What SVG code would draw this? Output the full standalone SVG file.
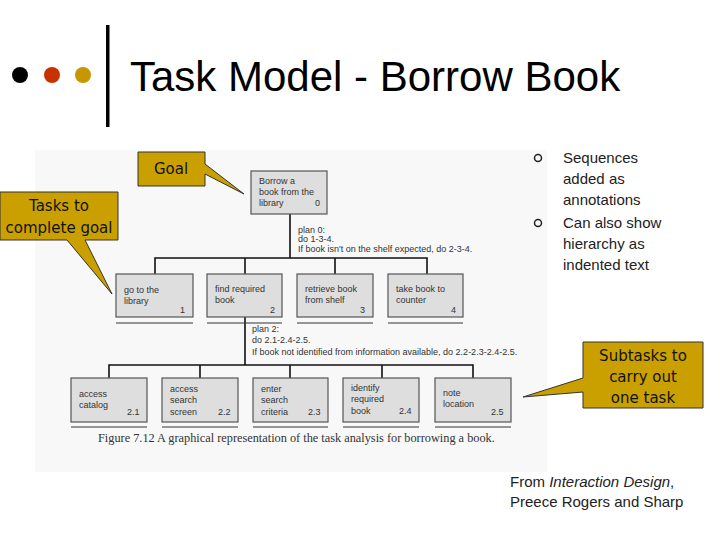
<svg xmlns="http://www.w3.org/2000/svg" width="720" height="540" viewBox="0 0 720 540">
<style>
.t{font-family:"Liberation Sans",Arial,sans-serif;fill:#000}
.cap{font-family:"Liberation Serif","Times New Roman",serif;font-size:12.3px;fill:#333}
.b rect{fill:#dedede;stroke:#555;stroke-width:1.2}
.b text,.pl{font-family:"Liberation Sans",Arial,sans-serif;font-size:9px;fill:#333}
.u{stroke:#333;stroke-width:1.2}
.c{fill:#c9a000;stroke:#333;stroke-width:1}
.ct{font-family:"DejaVu Sans",Verdana,sans-serif;font-size:15px;fill:#111;text-anchor:middle}
.bt{font-family:"Liberation Sans",Arial,sans-serif;font-size:15px;fill:#222}
.e{stroke:#111;stroke-width:1.6;fill:none}
</style>
<rect width="720" height="540" fill="#fff"/>
<rect x="35" y="150" width="512" height="322" fill="#f8f8f8"/>
<g id="header">
<circle cx="20" cy="75" r="8" fill="#000"/>
<circle cx="52" cy="75" r="8" fill="#c83200"/>
<circle cx="83" cy="75" r="8" fill="#c89600"/>
<rect x="106" y="25" width="3.5" height="102" fill="#000"/>
<text class="t" x="130" y="91" font-size="42">Task Model - Borrow Book</text>
</g>
<g id="connectors" class="e">
<path d="M290 214V258M155 274V258H427V274M245 258V274M335 258V274"/>
<path d="M245 317V365M109 378V365H473V378M200 365V378M290 365V378M382 365V378"/>
</g>
<g class="pl">
<text x="298" y="233">plan 0:</text>
<text x="298" y="242">do 1-3-4.</text>
<text x="298" y="252">If book isn't on the shelf expected, do 2-3-4.</text>
<text x="252" y="332">plan 2:</text>
<text x="252" y="343">do 2.1-2.4-2.5.</text>
<text x="252" y="355">If book not identified from information available, do 2.2-2.3-2.4-2.5.</text>
</g>
<g id="n0" class="b"><rect x="251" y="171" width="76" height="43"/><text x="259" y="184">Borrow a</text><text x="259" y="195">book from the</text><text x="259" y="206">library</text><text x="315" y="206">0</text></g>
<g id="n1" class="b"><rect x="116" y="274" width="77" height="43"/><text x="124" y="293">go to the</text><text x="124" y="304">library</text><text x="180" y="313">1</text><line class="u" x1="116" y1="323" x2="193" y2="323"/></g>
<g id="n2" class="b"><rect x="207" y="274" width="75" height="43"/><text x="215" y="292">find required</text><text x="215" y="303">book</text><text x="270" y="313">2</text><line class="u" x1="207" y1="323" x2="282" y2="323"/></g>
<g id="n3" class="b"><rect x="297" y="274" width="76" height="43"/><text x="305" y="292">retrieve book</text><text x="305" y="303">from shelf</text><text x="360" y="313">3</text><line class="u" x1="297" y1="323" x2="373" y2="323"/></g>
<g id="n4" class="b"><rect x="388" y="274" width="75" height="43"/><text x="396" y="292">take book to</text><text x="396" y="303">counter</text><text x="451" y="313">4</text><line class="u" x1="388" y1="323" x2="463" y2="323"/></g>
<g id="n21" class="b"><rect x="71" y="378" width="76" height="44"/><text x="79" y="397">access</text><text x="79" y="408">catalog</text><text x="127" y="415">2.1</text><line class="u" x1="71" y1="427" x2="147" y2="427"/></g>
<g id="n22" class="b"><rect x="162" y="378" width="76" height="44"/><text x="170" y="392">access</text><text x="170" y="403">search</text><text x="170" y="415">screen</text><text x="218" y="415">2.2</text><line class="u" x1="162" y1="427" x2="238" y2="427"/></g>
<g id="n23" class="b"><rect x="253" y="378" width="75" height="44"/><text x="261" y="392">enter</text><text x="261" y="403">search</text><text x="261" y="415">criteria</text><text x="308" y="415">2.3</text><line class="u" x1="253" y1="427" x2="328" y2="427"/></g>
<g id="n24" class="b"><rect x="343" y="378" width="76" height="44"/><text x="351" y="391">identify</text><text x="351" y="402">required</text><text x="351" y="414">book</text><text x="399" y="414">2.4</text><line class="u" x1="343" y1="427" x2="419" y2="427"/></g>
<g id="n25" class="b"><rect x="435" y="378" width="76" height="44"/><text x="443" y="396">note</text><text x="443" y="407">location</text><text x="491" y="415">2.5</text><line class="u" x1="435" y1="427" x2="511" y2="427"/></g>
<text class="cap" x="98" y="442">Figure 7.12  A graphical representation of the task analysis for borrowing a book.</text>
<g id="goal"><path class="c" d="M138 152H205V164L244 194L205 174V186H138Z"/><text class="ct" x="171" y="174">Goal</text></g>
<g id="tasks"><path class="c" d="M0 192H118V240H85L112 294L67 240H0Z"/><text class="ct" x="59" y="211">Tasks to</text><text class="ct" x="59" y="233">complete goal</text></g>
<g id="subtasks"><path class="c" d="M583 342H703V408H583V392L523 397L583 378Z"/><text class="ct" x="643" y="361">Subtasks to</text><text class="ct" x="643" y="382">carry out</text><text class="ct" x="643" y="403">one task</text></g>
<g id="bullets">
<circle cx="538" cy="158" r="3.5" fill="none" stroke="#222" stroke-width="1.5"/>
<circle cx="538" cy="223" r="3.5" fill="none" stroke="#222" stroke-width="1.5"/>
<text class="bt" x="563" y="163">Sequences</text><text class="bt" x="563" y="184">added as</text><text class="bt" x="563" y="205">annotations</text>
<text class="bt" x="563" y="228">Can also show</text><text class="bt" x="563" y="249">hierarchy as</text><text class="bt" x="563" y="270">indented text</text>
</g>
<g id="credit">
<text class="bt" x="510" y="487">From <tspan font-style="italic">Interaction Design</tspan>,</text>
<text class="bt" x="510" y="507">Preece Rogers and Sharp</text>
</g>
</svg>
